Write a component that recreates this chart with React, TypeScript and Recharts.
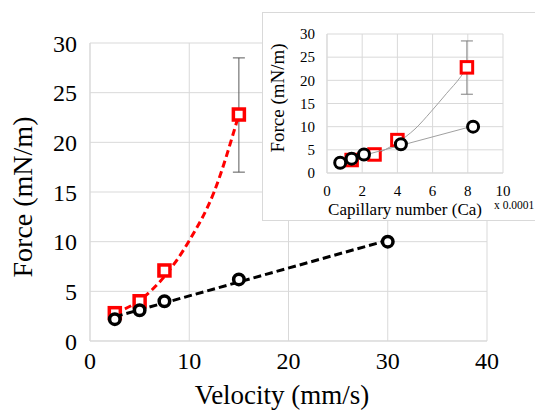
import React from "react";
import {
  CartesianGrid,
  ComposedChart,
  ErrorBar,
  Line,
  Scatter,
  XAxis,
  YAxis,
} from "recharts";

const serif = "'Liberation Serif', 'Times New Roman', serif";

// measured points (main chart, velocity in mm/s)
const velocityBlack = [2.5, 5, 7.5, 15, 30];
const forceBlack = [2.2, 3.1, 4.0, 6.2, 10.0];
const velocityRed = [2.5, 5, 7.5, 15];
const forceRed = [2.8, 4.0, 7.1, 22.8];
const errRed = [0, 0, 0, 5.8]; // below
const errRedUp = [0, 0, 0, 5.7]; // above

// red trend curve
const trendVelocity = [2.5, 5, 7.5, 10, 12.5, 15];
const trendForce = [2.8, 4.1, 6.5, 10.1, 15.0, 22.8];

// inset, capillary number (x 0.0001)
const caBlack = [0.75, 1.4, 2.1, 4.2, 8.3];
const caRed = [1.4, 2.7, 4.0, 7.95];
const trendCa = [1.4, 2.7, 4.0, 5.0, 5.9, 6.8, 7.6, 7.95];
const trendCaForce = [2.8, 4.0, 6.6, 9.5, 13.2, 17.2, 20.8, 22.8];

const xTicksMain = [0, 10, 20, 30, 40];
const xTicksInset = [0, 2, 4, 6, 8, 10];
const yTicks = [0, 5, 10, 15, 20, 25, 30];

const pts = (xs: number[], ys: number[], lo?: number[], hi?: number[]) =>
  xs.map((x, i) => ({ x, y: ys[i], err: lo && hi ? [lo[i], hi[i]] : undefined }));

const blackMain = pts(velocityBlack, forceBlack);
const redMain = pts(velocityRed, forceRed, errRed, errRedUp);
const redTrendMain = pts(trendVelocity, trendForce);
const blackInset = pts(caBlack, forceBlack);
const redInset = pts(caRed, forceRed, errRed, errRedUp);
const redTrendInset = pts(trendCa, trendCaForce);

const square = (size: number, sw: number) => (p: any) => (
  <rect
    x={p.cx - size / 2}
    y={p.cy - size / 2}
    width={size}
    height={size}
    fill="#fff"
    stroke="#ff0000"
    strokeWidth={sw}
  />
);

const circle = (r: number, sw: number) => (p: any) => (
  <circle cx={p.cx} cy={p.cy} r={r} fill="#fff" stroke="#000" strokeWidth={sw} />
);

const text = (value: string, x: number, y: number, size: number, rotate = false, anchor = "middle") => () => (
  <text
    x={x}
    y={y}
    textAnchor={anchor}
    dominantBaseline={rotate ? "central" : "alphabetic"}
    transform={rotate ? `rotate(-90, ${x}, ${y})` : undefined}
    fontSize={size}
    fontFamily={serif}
    fill="#000"
  >
    {value}
  </text>
);

function MainChart() {
  return (
    <ComposedChart
      width={535}
      height={410}
      margin={{ top: 43, right: 48, bottom: 0, left: 0 }}
      style={{ position: "absolute", left: 0, top: 0 }}
    >
      <CartesianGrid stroke="#d9d9d9" />
      <XAxis
        type="number"
        dataKey="x"
        domain={[0, 40]}
        ticks={xTicksMain}
        height={69}
        stroke="#d9d9d9"
        tickLine={false}
        tickMargin={5}
        tick={{ fontSize: 24, fill: "#000", fontFamily: serif }}
        label={text("Velocity (mm/s)", 282, 404, 27)}
      />
      <YAxis
        type="number"
        dataKey="y"
        domain={[0, 30]}
        ticks={yTicks}
        width={90}
        stroke="#d9d9d9"
        tickLine={false}
        tickMargin={7}
        tick={{ fontSize: 24, fill: "#000", fontFamily: serif }}
        label={text("Force (mN/m)", 22, 197, 28, true)}
      />
      <Line
        data={redTrendMain}
        dataKey="y"
        type="monotone"
        stroke="#ff0000"
        strokeWidth={3}
        strokeDasharray="7 4"
        dot={false}
        isAnimationActive={false}
      />
      <Scatter data={redMain} shape={square(11, 3.5)} isAnimationActive={false}>
        <ErrorBar dataKey="err" direction="y" width={6} stroke="#595959" strokeWidth={1} />
      </Scatter>
      <Scatter
        data={blackMain}
        shape={circle(5.25, 3.5)}
        line={{ stroke: "#000", strokeWidth: 3, strokeDasharray: "8 4" }}
        lineType="fitting"
        isAnimationActive={false}
      />
    </ComposedChart>
  );
}

function InsetChart() {
  return (
    <ComposedChart
      width={273}
      height={209}
      margin={{ top: 22, right: 32, bottom: 0, left: 0 }}
      style={{ position: "absolute", left: 262, top: 12 }}
    >
      <CartesianGrid stroke="#d9d9d9" />
      <XAxis
        type="number"
        dataKey="x"
        domain={[0, 10]}
        ticks={xTicksInset}
        height={48}
        stroke="#d9d9d9"
        tickLine={false}
        tickMargin={6}
        tick={{ fontSize: 15, fill: "#000", fontFamily: serif }}
        label={() => (
          <g>
            {text("Capillary number (Ca)", 143, 203, 17)()}
            {text("x 0.0001", 232, 197, 11.5, false, "start")()}
          </g>
        )}
      />
      <YAxis
        type="number"
        dataKey="y"
        domain={[0, 30]}
        ticks={yTicks}
        width={65}
        stroke="#d9d9d9"
        tickLine={false}
        tickMargin={6}
        tick={{ fontSize: 15, fill: "#000", fontFamily: serif }}
        label={text("Force (mN/m)", 15, 86, 19, true)}
      />
      <Line
        data={redTrendInset}
        dataKey="y"
        type="monotone"
        stroke="#a0a0a0"
        strokeWidth={1}
        dot={false}
        isAnimationActive={false}
      />
      <Scatter data={redInset} shape={square(11.5, 3)} isAnimationActive={false}>
        <ErrorBar dataKey="err" direction="y" width={6} stroke="#7f7f7f" strokeWidth={1} />
      </Scatter>
      <Scatter
        data={blackInset}
        shape={circle(5.5, 3)}
        line={{ stroke: "#a0a0a0", strokeWidth: 1 }}
        lineType="fitting"
        isAnimationActive={false}
      />
    </ComposedChart>
  );
}

export default function App() {
  return (
    <div
      style={{
        position: "absolute",
        left: 0,
        top: 0,
        width: 535,
        height: 410,
        overflow: "hidden",
        background: "#fff",
        fontFamily: serif,
      }}
    >
      <MainChart />
      <div
        style={{
          position: "absolute",
          left: 262,
          top: 12,
          width: 290,
          height: 209,
          boxSizing: "border-box",
          border: "1px solid #d9d9d9",
          background: "#fff",
        }}
      />
      <InsetChart />
    </div>
  );
}
